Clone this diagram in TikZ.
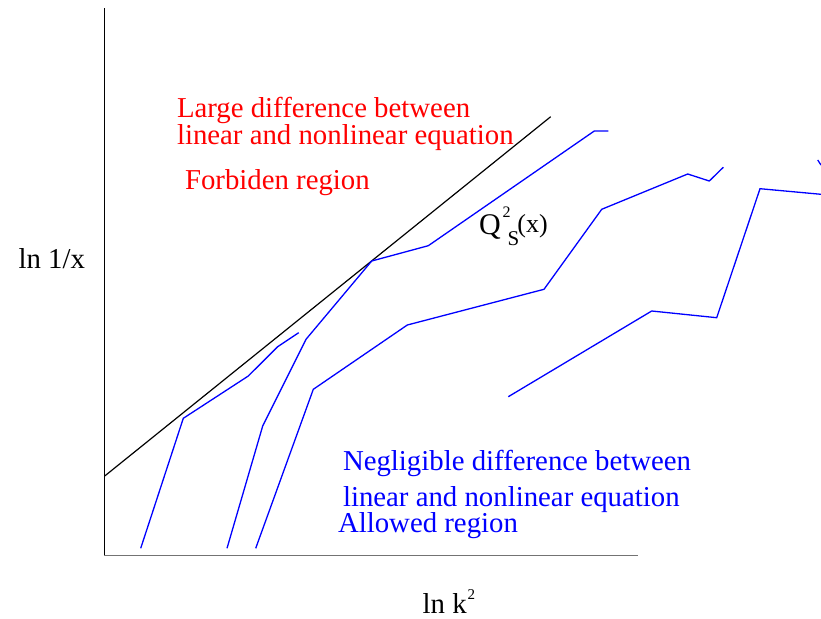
\documentclass[tikz,border=0pt]{standalone}
\usepackage{fontspec}
\setmainfont{Liberation Serif}
\begin{document}
\begin{tikzpicture}[x=1pt,y=-1pt,
  lbl/.style={anchor=base west,inner sep=0pt,outer sep=0pt,font=\fontsize{28.8}{28.8}\selectfont},
  redlbl/.style={lbl,text=red},
  bluelbl/.style={lbl,text=blue},
  axisline/.style={line width=1.5pt},
  curve/.style={draw=blue,line width=1.3pt,line join=miter},
  boundary/.style={draw=black,line width=1.2pt}]
\useasboundingbox (0,0) rectangle (821,618);
% axes
\coordinate (top) at (104.3,8.3);
\coordinate (origin) at (104.3,555.7);
\coordinate (xend) at (637.7,555.7);
\draw[axisline,black] (top) -- (origin);
\draw[axisline,black!55] (origin) -- (xend);
% boundary line
\coordinate (b1) at (104.7,476);
\coordinate (b2) at (550.7,116.7);
\draw[boundary] (b1) -- (b2);
% blue curves
\draw[curve] (140.7,548.3) -- (183.3,418.3) -- (248.3,376) -- (277.7,346.7) -- (298.7,332.7);
\draw[curve] (227,548.3) -- (262.7,426) -- (306,339.3) -- (371.7,261) -- (428.3,245.7) -- (594.3,131) -- (608.3,131);
\draw[curve] (255.7,548.3) -- (313.3,389.3) -- (407.3,325) -- (544,289.3) -- (601.7,209.3) -- (687.7,174) -- (709.3,181) -- (723.3,167.3);
\draw[curve] (508.3,396.7) -- (651.7,311) -- (716.7,317.7) -- (760,188.7) -- (821,194.3);
\draw[curve] (817.7,160) -- (821,165);
% red labels
\node[redlbl] (large) at (177,117) {Large difference between};
\node[redlbl] (lin1) at (177,144) {linear and nonlinear equation};
\node[redlbl] (forb) at (185,189) {Forbiden region};
% blue labels
\node[bluelbl] (negl) at (343,470) {Negligible difference between};
\node[bluelbl] (lin2) at (343,506) {linear and nonlinear equation};
\node[bluelbl] (allow) at (338,532) {Allowed region};
% axis labels
\node[lbl] (ylab) at (18.5,268) {ln 1/x};
\node[lbl] (xlab) at (422.7,613) {ln k\kern1pt\raisebox{14pt}{\fontsize{15}{15}\selectfont 2}};
% saturation scale label
\node[lbl] (qs) at (479,234) {{\fontsize{30}{30}\selectfont Q}\kern2pt\rlap{\raisebox{17pt}{\fontsize{16}{16}\selectfont 2}}\kern5pt\raisebox{-11pt}{\fontsize{21}{21}\selectfont S}\kern-2pt\raisebox{2pt}{\fontsize{26}{26}\selectfont (x)}};
\end{tikzpicture}
\end{document}
